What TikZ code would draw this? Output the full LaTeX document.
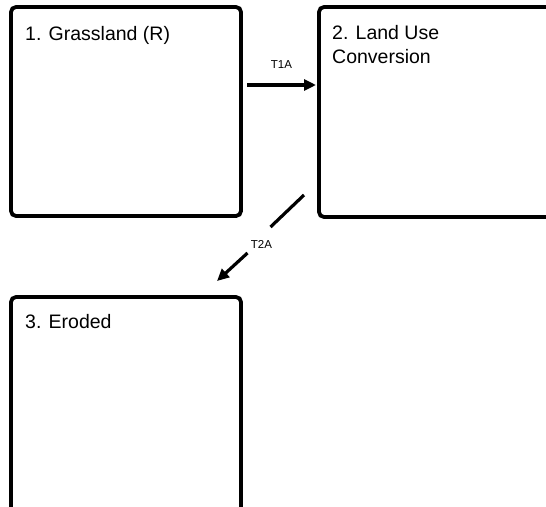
\documentclass[tikz,border=0pt]{standalone}
\usepackage{fontspec}
\setmainfont{Liberation Sans}
\usetikzlibrary{arrows.meta,calc}
\begin{document}
\begin{tikzpicture}[x=1pt,y=-1pt,
  statebox/.style={draw, line width=3.8pt, rounded corners=5pt, outer sep=0pt, inner sep=0pt, minimum width=230pt, minimum height=209pt},
  boxtext/.style={anchor=north west, inner sep=0pt, align=left, font=\fontsize{19.5}{24.5}\selectfont},
  transline/.style={line width=3.2pt},
  trans/.style={transline, -{Triangle[length=12pt,width=11pt]}},
  translabel/.style={font=\fontsize{11.5}{13}\selectfont, inner sep=1pt}]
\useasboundingbox (0,0) rectangle (546,506);
\clip (0,0) rectangle (546,506);
% state boxes
\node[statebox] (b1) at (126,111.5) {};
\node[statebox, minimum width=260pt, minimum height=210pt] (b2) at (449,112) {};
\node[statebox, minimum height=240pt] (b3) at (126,417) {};
% box texts
\node[boxtext] (t1) at ([shift={(14pt,-19pt)}]b1.north west) {1. Grassland (R)};
\node[boxtext] (t2) at ([shift={(13pt,-18pt)}]b2.north west) {2. Land Use\\Conversion};
\node[boxtext] (t3) at ([shift={(14pt,-17.5pt)}]b3.north west) {3. Eroded};
% transition T1A
\coordinate (a1s) at ([shift={(6pt,26.5pt)}]b1.east);
\coordinate (a1e) at ([shift={(-3pt,27pt)}]b2.west);
\draw[trans] (a1s) -- node[translabel, above=14pt] (l1) {T1A} (a1e);
% transition T2A
\coordinate (a2s) at ([shift={(-15pt,22pt)}]b2.south west);
\coordinate (a2e) at ([shift={(-24pt,16pt)}]b3.north east);
\node[translabel] (l2) at (261.5,244) {T2A};
\draw[transline] (a2s) -- ([shift={(9pt,17pt)}]l2.center);
\draw[trans] ([shift={(-14pt,-9pt)}]l2.center) -- (a2e);
\end{tikzpicture}
\end{document}
